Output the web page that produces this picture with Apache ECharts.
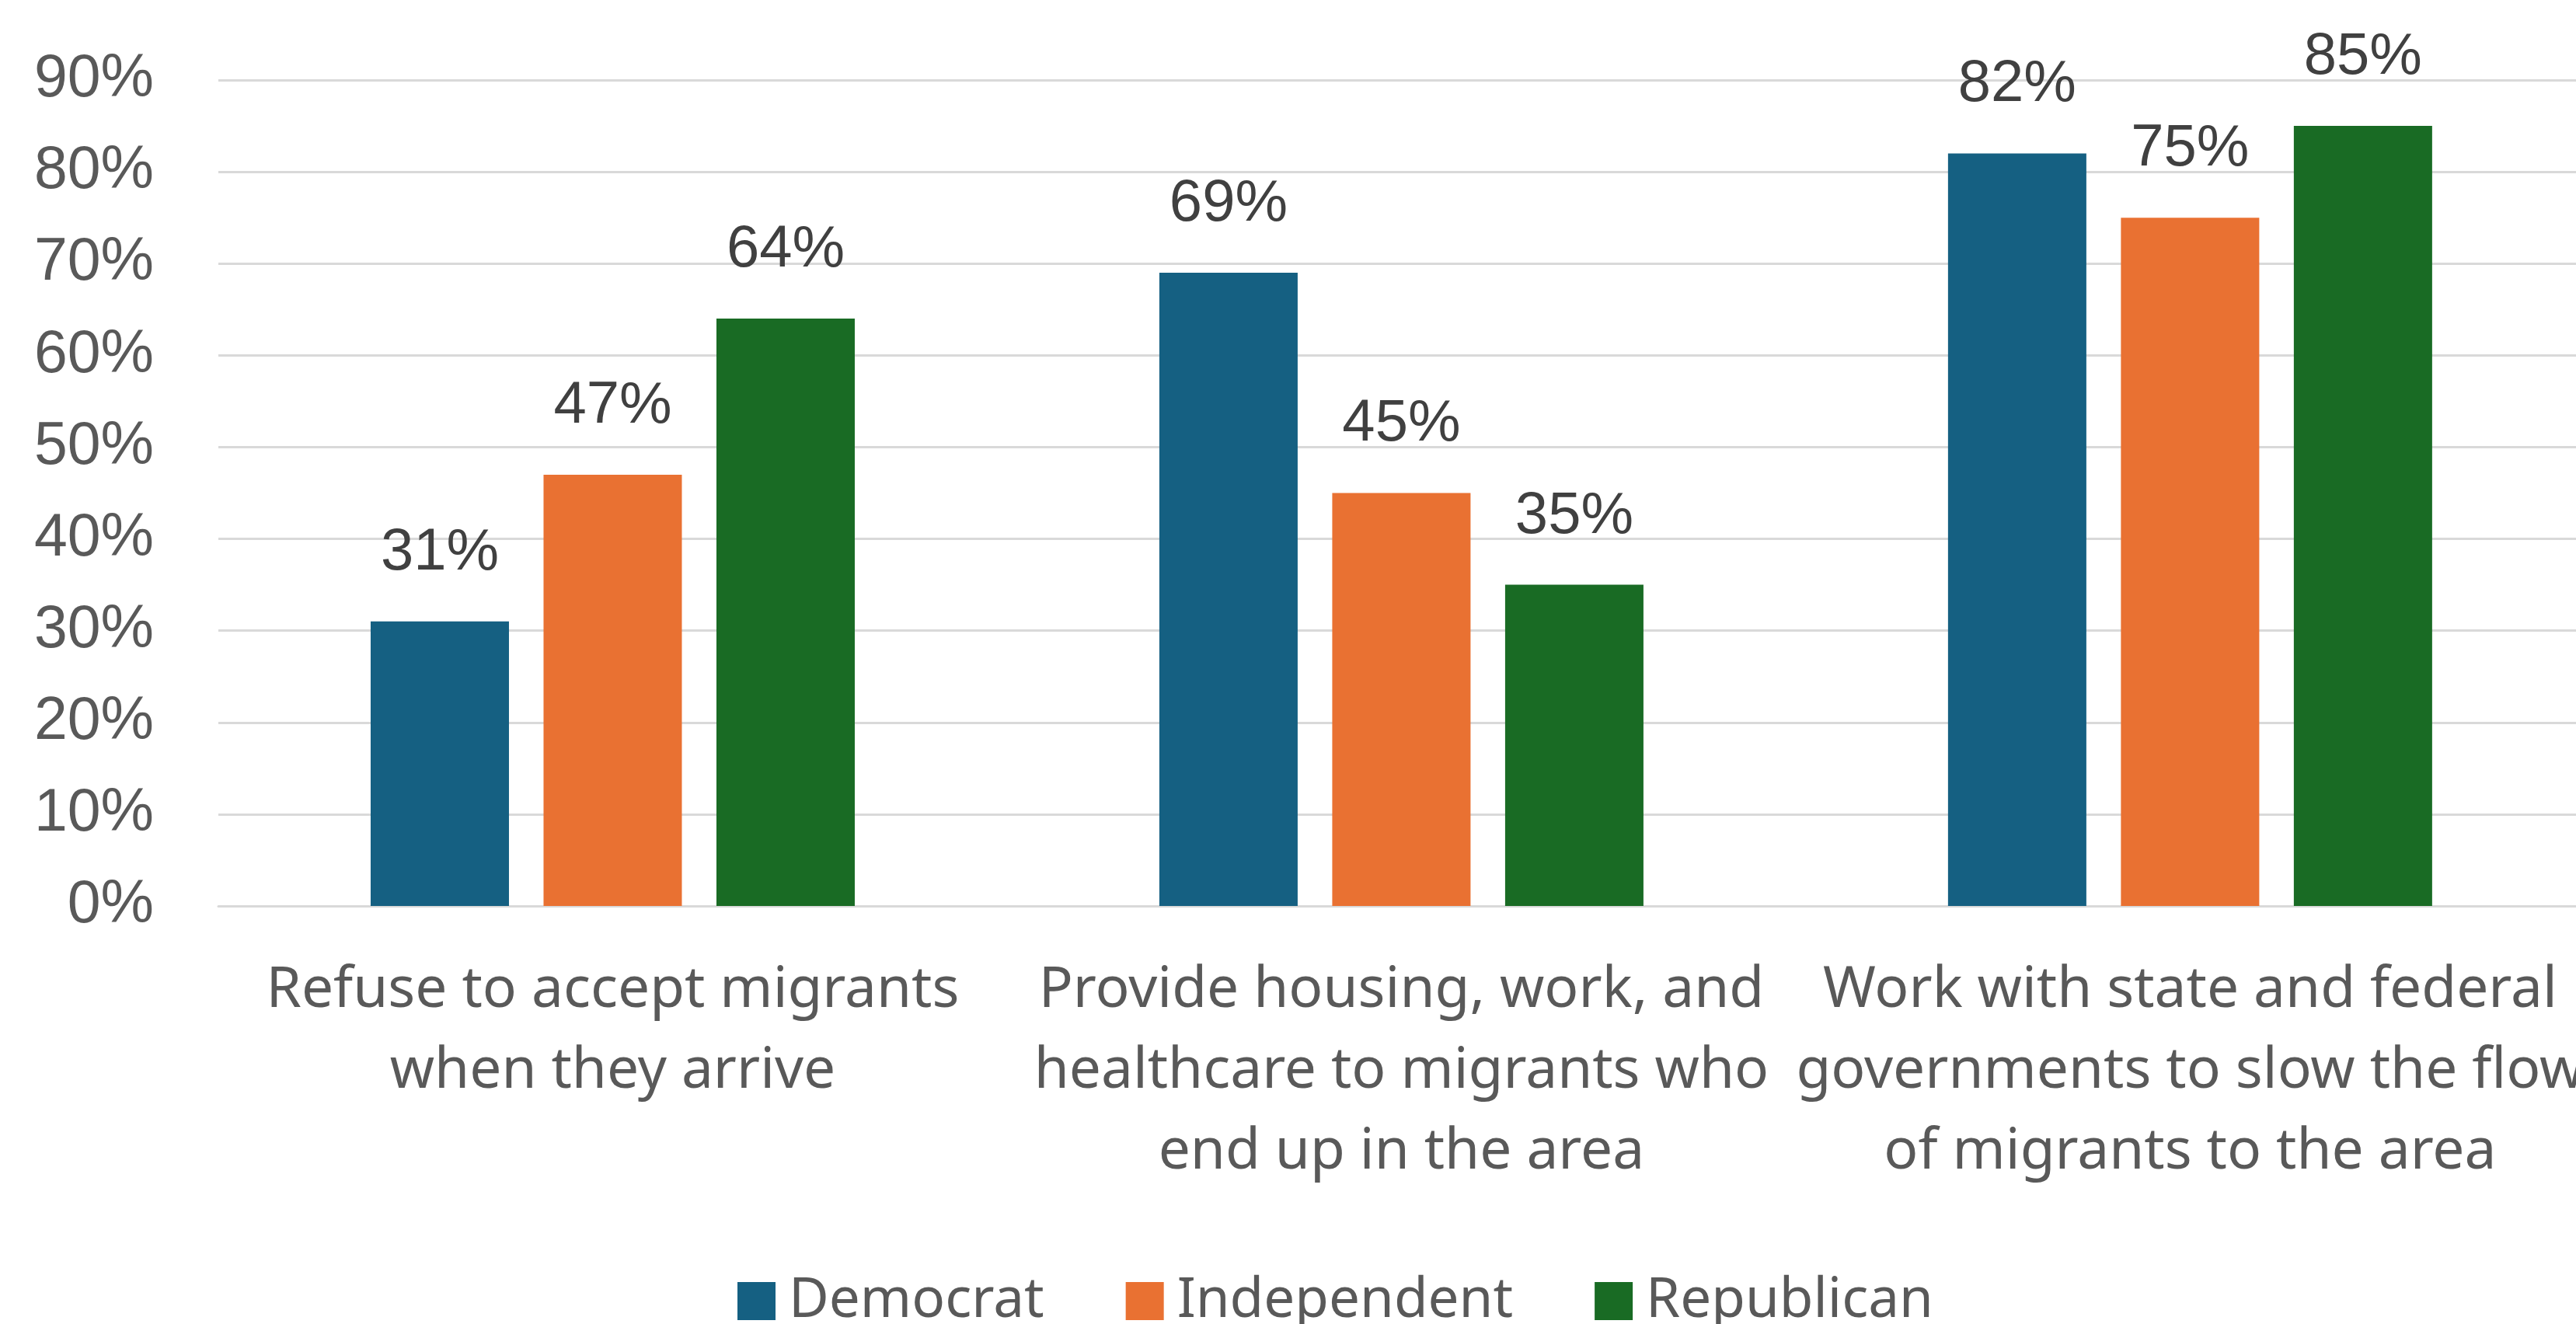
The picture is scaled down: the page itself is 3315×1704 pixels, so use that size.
<!DOCTYPE html>
<html>
<head>
<meta charset="utf-8">
<script src="https://cdn.jsdelivr.net/npm/echarts@6/dist/echarts.min.js"></script>
<style>
html,body{margin:0;padding:0;background:#fff;overflow:hidden;width:3315px;height:1704px;}
#chart{width:3328px;height:1704px;}
</style>
</head>
<body>
<div id="chart"></div>
<script>
const categories = [
  "Refuse to accept migrants\nwhen they arrive",
  "Provide housing, work, and\nhealthcare to migrants who\nend up in the area",
  "Work with state and federal\ngovernments to slow the flow\nof migrants to the area"
];
const seriesNames = ["Democrat", "Independent", "Republican"];
const democrat = [31, 69, 82];
const independent = [47, 45, 75];
const republican = [64, 35, 85];
const colors = ["#156082", "#E97132", "#196B24"];
const yMin = 0, yMax = 90, yInterval = 10;

const catFont = "'Noto Sans', sans-serif";
const numFont = "'Liberation Sans', Arial, sans-serif";

const chart = echarts.init(document.getElementById('chart'), null, {renderer: 'canvas'});
const valueLists = [democrat, independent, republican];
const series = seriesNames.map((name, i) => ({
  name: name,
  type: 'bar',
  data: valueLists[i],
  barWidth: 178,
  barGap: '25%',
  itemStyle: {color: colors[i]},
  label: {
    show: true,
    position: 'top',
    distance: 50,
    formatter: '{c}%',
    color: '#404040',
    fontFamily: numFont,
    fontSize: 76
  }
}));

chart.setOption({
  animation: false,
  backgroundColor: '#ffffff',
  color: colors,
  grid: {left: 281, right: 0, top: 103, bottom: 1704 - 1166, containLabel: false},
  legend: {
    data: seriesNames,
    left: 944,
    top: 1634,
    icon: 'rect',
    itemWidth: 49,
    itemHeight: 49,
    itemGap: 105,
    textStyle: {color: '#595959', fontFamily: catFont, fontSize: 71, padding: [0, 0, 0, 12]}
  },
  xAxis: {
    type: 'category',
    data: categories,
    axisLine: {show: true, lineStyle: {color: '#D9D9D9', width: 3}},
    axisTick: {show: false},
    axisLabel: {
      interval: 0,
      margin: 57,
      color: '#595959',
      fontFamily: catFont,
      fontSize: 73,
      lineHeight: 104,
      align: 'center'
    }
  },
  yAxis: {
    type: 'value',
    min: yMin,
    max: yMax,
    interval: yInterval,
    axisLine: {show: false},
    axisTick: {show: false},
    splitLine: {lineStyle: {color: '#D9D9D9', width: 3}},
    axisLabel: {
      formatter: '{value}%',
      margin: 83,
      color: '#595959',
      fontFamily: numFont,
      fontSize: 77
    }
  },
  series: series
});
</script>
</body>
</html>
